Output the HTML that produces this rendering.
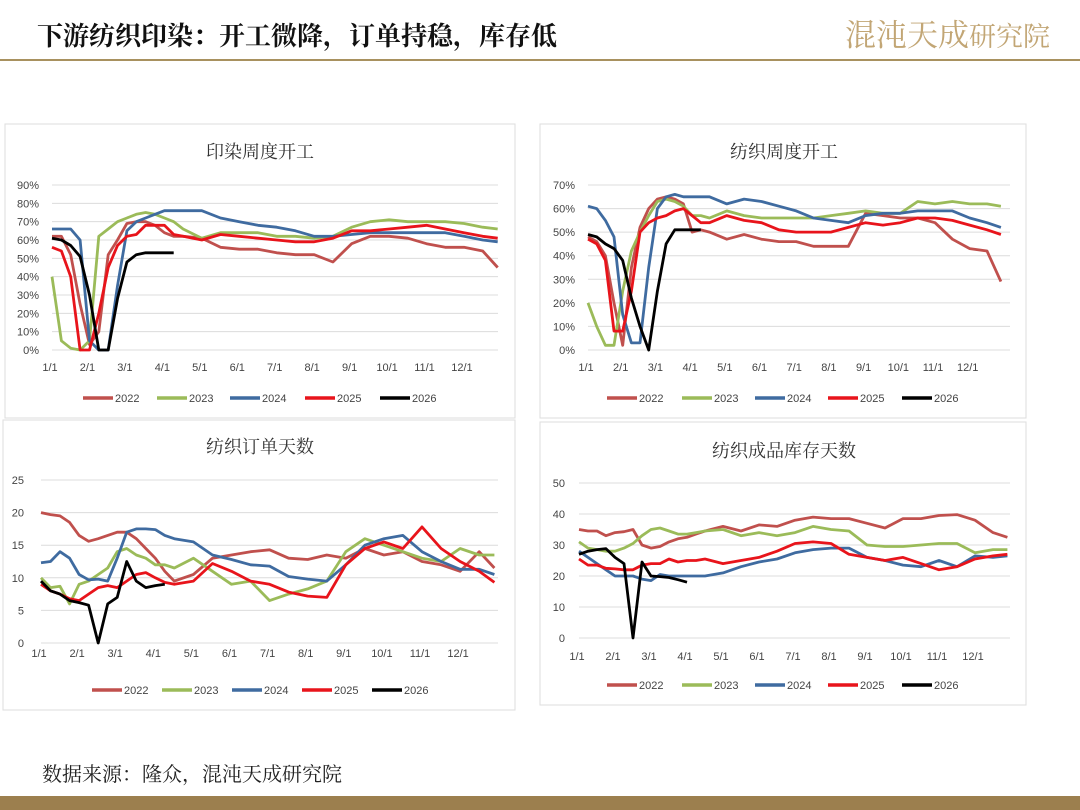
<!DOCTYPE html>
<html><head><meta charset="utf-8">
<style>
html,body{margin:0;padding:0;background:#fff;}
svg{display:block;font-family:"Liberation Sans","Noto Sans CJK SC",sans-serif;}
.tk{font-size:11px;fill:#444;}
.tt{font-family:"Liberation Serif","Noto Serif CJK SC",serif;font-size:18px;fill:#333;}
</style></head>
<body>
<svg id="page" width="1080" height="810" viewBox="0 0 1080 810">
<text x="37" y="45" style="font-family:'Liberation Serif','Noto Serif CJK SC',serif;font-size:26px;font-weight:bold;fill:#111">下游纺织印染：开工微降，订单持稳，库存低</text>
<text x="845" y="46" style="font-family:'Liberation Serif','Noto Serif CJK SC',serif;font-size:31px;fill:#c2a675">混沌天成<tspan style="font-size:27px">研究院</tspan></text>
<rect x="0" y="59" width="1080" height="2" fill="#a8915f"/>
<rect x="5" y="124" width="510" height="294" fill="none" stroke="#ddd"/>
<rect x="540" y="124" width="486" height="294" fill="none" stroke="#ddd"/>
<rect x="3" y="420" width="512" height="290" fill="none" stroke="#ddd"/>
<rect x="540" y="422" width="486" height="283" fill="none" stroke="#ddd"/>
<text x="42" y="781" style="font-family:'Liberation Serif','Noto Serif CJK SC',serif;font-size:20px;fill:#222">数据来源：隆众，混沌天成研究院</text>
<rect x="0" y="796" width="1080" height="14" fill="#9c7f4e"/>
<g id="charts"></g>
</svg>
<script>
// shared x positions (month index from 1/1)
const weeks = [0,.25,.5,.75,1,1.25,1.5,1.75,2,2.25,2.5,2.75,3,3.25,3.5,4,4.5,5,5.5,6,6.5,7,7.5,8,8.5,9,9.5,10,10.5,11,11.5,11.9];
const monthLabels = ["1/1","2/1","3/1","4/1","5/1","6/1","7/1","8/1","9/1","10/1","11/1","12/1"];
const seriesNames = ["2022","2023","2024","2025","2026"];
const seriesColors = ["#c0504d","#9bbb59","#3f6ba0","#e8141b","#000000"];

// chart 1: 印染周度开工 (%)
const c1_2022 = [62,62,52,25,3,10,52,60,69,70,70,68,64,62,62,61,56,55,55,53,52,52,48,58,62,62,61,58,56,56,54,45];
const c1_2023 = [40,5,1,0,5,62,66,70,72,74,75,74,72,70,66,61,64,64,64,62,62,61,62,67,70,71,70,70,70,69,67,66];
const c1_2024 = [66,66,66,60,5,0,0,35,65,70,72,74,76,76,76,76,72,70,68,67,65,62,62,63,64,64,64,64,64,62,60,59];
const c1_2025 = [56,54,40,0,0,20,45,57,62,63,68,68,68,63,62,60,63,62,61,60,59,59,61,65,65,66,67,68,66,64,62,61];
const c1_2026 = [61,60,57,51,30,0,0,28,48,52,53,53,53,53];
const c1_ticks = ["0%","10%","20%","30%","40%","50%","60%","70%","80%","90%"];

// chart 2: 纺织周度开工 (%)
const c2_2022 = [48,46,40,20,2,35,52,60,64,65,64,62,50,51,50,47,49,47,46,46,44,44,44,58,57,56,56,54,47,43,42,29];
const c2_2023 = [20,10,2,2,25,42,50,57,63,64,63,61,57,57,56,59,57,56,56,56,56,57,58,59,58,58,63,62,63,62,62,61];
const c2_2024 = [61,60,55,48,15,3,3,35,60,65,66,65,65,65,65,62,64,63,61,59,56,55,54,57,58,58,59,59,59,56,54,52];
const c2_2025 = [47,45,38,8,8,25,50,54,56,57,59,60,57,54,54,57,55,54,51,50,50,50,52,54,53,54,56,56,55,53,51,49];
const c2_2026 = [49,48,45,43,38,22,10,0,25,45,51,51,51,51];
const c2_ticks = ["0%","10%","20%","30%","40%","50%","60%","70%"];

// chart 3: 纺织订单天数
const c3_2022 = [20,19.7,19.5,18.5,16.5,15.6,16,16.5,17,17,16,14.5,13,11,9.5,10.5,13,13.5,14,14.3,13,12.8,13.5,13,14.5,13.5,14,12.5,12,11,14,11.5];
const c3_2023 = [10,8.5,8.7,6,9,9.5,10.5,11.5,14,14.5,13.5,13,12,12,11.5,13,11,9,9.5,6.5,7.5,8.3,9.5,14,16,15,14,13,12.5,14.5,13.5,13.5];
const c3_2024 = [12.3,12.5,14,13,10.5,9.7,9.8,9.5,13,17,17.5,17.5,17.4,16.5,16,15.5,13.5,12.8,12,11.8,10.2,9.8,9.5,12,15,16,16.5,14,12.5,11.3,11.3,10.5];
const c3_2025 = [9,8,7.5,6.8,6.5,7.5,8.5,8.8,8.5,9.5,10.5,10.8,10,9.3,9,9.5,12.2,11,9.5,9,7.8,7.2,7,12,14.5,15.5,14.5,17.8,14.5,12.5,11,9.3];
const c3_2026 = [9.5,8,7.5,6.5,6.2,5.8,0,6,7,12.5,9.5,8.5,8.8,9];
const c3_ticks = ["0","5","10","15","20","25"];

// chart 4: 纺织成品库存天数
const c4_2022 = [35,34.5,34.5,33,34,34.3,35,30,29,29.5,31,32,32.5,33.5,34.5,36,34.5,36.5,36,38,39,38.5,38.5,37,35.5,38.5,38.5,39.5,39.8,38,34,32.5];
const c4_2023 = [31,29,28.5,28,28,29,30.5,33,35,35.5,34.5,33.5,33.5,34,34.5,35,33,34,33,34,36,35,34.5,30,29.5,29.5,30,30.5,30.5,27.5,28.5,28.5];
const c4_2024 = [28,26,24,22,20,20,20,19,18.5,20.5,20,20,20,20,20,21,23,24.5,25.5,27.5,28.5,29,29,26,25,23.5,23,25,23,26.5,26,26.5];
const c4_2025 = [25.5,23.5,23.5,22.5,22.3,22,22,23.5,24,24,25.5,24.5,25,25,25.5,24,25,26,28,30.5,31,30.5,27,26,25,26,24,22,23,25.5,26.5,27];
const c4_2026 = [27,28,28.5,28.8,26,24,0,24.5,20,19.8,19.5,18.8,18];
const c4_ticks = ["0","10","20","30","40","50"];

const NS = "http://www.w3.org/2000/svg";
const root = document.getElementById('charts');
function mk(tag, attrs, parent){
  const e = document.createElementNS(NS, tag);
  for (const k in attrs) e.setAttribute(k, attrs[k]);
  parent.appendChild(e); return e;
}

function drawChart(cfg){
  const g = mk('g', {}, root);
  
  
  const xs = m => cfg.x0 + m * cfg.step;
  const ys = v => cfg.yBase - (v - cfg.min) / (cfg.max - cfg.min) * (cfg.yBase - cfg.yTop);
  const title = mk('text', {x: cfg.titleX, y: cfg.titleY, 'text-anchor':'middle', class:'tt'}, g);
  title.textContent = cfg.title;
  
  
  const n = cfg.ticks.length;
  cfg.ticks.forEach((t, i) => {
    const v = cfg.min + (cfg.max - cfg.min) * i / (n - 1);
    const gl = mk('line', {x1: cfg.x0, x2: cfg.gridEnd, y1: ys(v), y2: ys(v), stroke:'#dcdcdc', 'stroke-width':1}, g);
    
    
    const tl = mk('text', {x: cfg.yLabelX, y: ys(v) + 4, 'text-anchor':'end', class:'tk'}, g);
    tl.textContent = t;
    
    
  });
  monthLabels.forEach((t, i) => {
    const tl = mk('text', {x: xs(i) - 2, y: cfg.xLabelY, 'text-anchor':'middle', class:'tk'}, g);
    tl.textContent = t;
    
    
  });
  cfg.series.forEach((arr, si) => {
    let d = '';
    arr.forEach((v, i) => { if (v == null) return; d += (d ? 'L' : 'M') + xs(weeks[i]).toFixed(1) + ',' + ys(v).toFixed(1); });
    const p = mk('path', {d: d, fill:'none', stroke: seriesColors[si], 'stroke-width': 2.8, 'stroke-linejoin':'round'}, g);
    
    
    const lx = cfg.legendX[si];
    const ll = mk('line', {x1: lx, x2: lx + 30, y1: cfg.legendY, y2: cfg.legendY, stroke: seriesColors[si], 'stroke-width': 3.5}, g);
    
    
    const lt = mk('text', {x: lx + 32, y: cfg.legendY + 4, class:'tk'}, g);
    lt.textContent = seriesNames[si];
    
    
  });
}

drawChart({name:'chart-dyeing-operating-rate', title:'印染周度开工', titleX:260, titleY:158, x0:52, step:37.45, gridEnd:498, yBase:350, yTop:185, min:0, max:90, ticks:c1_ticks, yLabelX:39, xLabelY:371, legendX:[83,157,230,305,380], legendY:398, series:[c1_2022,c1_2023,c1_2024,c1_2025,c1_2026]});
drawChart({name:'chart-weaving-operating-rate', title:'纺织周度开工', titleX:784, titleY:158, x0:588, step:34.7, gridEnd:1010, yBase:350, yTop:185, min:0, max:70, ticks:c2_ticks, yLabelX:575, xLabelY:371, legendX:[607,682,755,828,902], legendY:398, series:[c2_2022,c2_2023,c2_2024,c2_2025,c2_2026]});
drawChart({name:'chart-weaving-order-days', title:'纺织订单天数', titleX:260, titleY:453, x0:41, step:38.1, gridEnd:498, yBase:643, yTop:480, min:0, max:25, ticks:c3_ticks, yLabelX:24, xLabelY:657, legendX:[92,162,232,302,372], legendY:690, series:[c3_2022,c3_2023,c3_2024,c3_2025,c3_2026]});
drawChart({name:'chart-weaving-inventory-days', title:'纺织成品库存天数', titleX:784, titleY:457, x0:579, step:36, gridEnd:1010, yBase:638, yTop:483, min:0, max:50, ticks:c4_ticks, yLabelX:565, xLabelY:660, legendX:[607,682,755,828,902], legendY:685, series:[c4_2022,c4_2023,c4_2024,c4_2025,c4_2026]});
</script>
</body></html>
